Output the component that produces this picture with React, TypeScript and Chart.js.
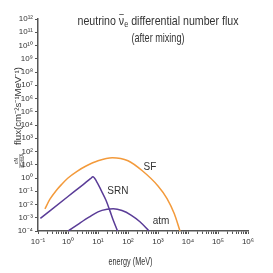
import React, { useEffect, useRef } from "react";
import { Chart, registerables } from "chart.js";

Chart.register(...registerables);

const FONT = "'Liberation Sans Narrow', 'Arial Narrow', 'Liberation Sans', Arial, sans-serif";
const TEXT = "#333333";
const AXIS = "#555555";

// Series (energy in MeV, flux in cm^-2 s^-1 MeV^-1)
const sfEnergy = [0.17, 0.25, 0.4, 0.63, 1, 2, 4, 10, 30, 100, 300, 1000, 2000, 3500, 5400];
const sfFlux = [0.0047, 0.025, 0.11, 0.35, 1, 3.2, 8, 20, 34, 20, 3.5, 0.25, 0.028, 0.002, 0.0001];

const srnEnergy = [0.12, 1, 3.2, 5.6, 6.8, 8.9, 13, 18.6, 25, 33, 45];
const srnFlux = [0.00089, 0.04, 0.32, 0.89, 1.23, 0.56, 0.107, 0.02, 0.0033, 0.00056, 0.0001];

const atmEnergy = [1, 2.5, 5, 10, 20, 32, 63, 126, 250, 500];
const atmFlux = [0.0001, 0.0004, 0.0011, 0.0028, 0.0043, 0.0047, 0.0035, 0.0016, 0.0005, 0.0001];

const seriesNames = ["SF", "SRN", "atm"];
const seriesColors = ["#F39A3B", "#5A3C97", "#5A3C97"];
// label anchors in data coordinates (energy, flux)
const labelEnergy = [540, 46, 1260];
const labelFlux = [6.8, 0.105, 0.00056];

const xTickExponents = [-1, 0, 1, 2, 3, 4, 5, 6];
const yTickExponents = [12, 11, 10, 9, 8, 7, 6, 5, 4, 3, 2, 1, 0, -1, -2, -3, -4];

const titleLine2 = "(after mixing)";
const xTitle = "energy (MeV)";
const yTitle = "flux(cm⁻²s⁻¹MeV⁻¹)";

const SUP: Record<string, string> = {
  "0": "⁰", "1": "¹", "2": "²", "3": "³", "4": "⁴",
  "5": "⁵", "6": "⁶", "7": "⁷", "8": "⁸", "9": "⁹", "-": "⁻",
};
const powLabel = (v: number) => {
  const p = Math.round(Math.log10(v));
  return "10" + String(p).split("").map((c) => SUP[c]).join("");
};
const isDecade = (v: number) => Math.abs(Math.log10(v) - Math.round(Math.log10(v))) < 1e-6;

function drawFitted(ctx: CanvasRenderingContext2D, text: string, cx: number, cy: number, font: string, width: number) {
  ctx.font = font;
  const w = ctx.measureText(text).width;
  const sx = width / w;
  ctx.save();
  ctx.translate(cx, cy);
  ctx.scale(sx, 1);
  ctx.textAlign = "center";
  ctx.textBaseline = "middle";
  ctx.fillText(text, 0, 0);
  ctx.restore();
}

const decorPlugin = {
  id: "decor",
  afterDraw(chart: any) {
    const { ctx } = chart;
    const xs = chart.scales.x;
    const ys = chart.scales.y;
    ctx.save();
    ctx.fillStyle = TEXT;

    // Title line 1 with nu-bar sub e
    const f1 = `13px ${FONT}`;
    const fsub = `9px ${FONT}`;
    ctx.font = f1;
    const a = "neutrino ";
    const nu = "ν";
    const b = " differential number flux";
    const wa = ctx.measureText(a).width;
    const wnu = ctx.measureText(nu).width;
    const wb = ctx.measureText(b).width;
    ctx.font = fsub;
    const we = ctx.measureText("e").width;
    const total = wa + wnu + we + wb;
    const target = 161;
    const sx = target / total;
    ctx.save();
    ctx.translate(158 - target / 2, 21);
    ctx.scale(sx, 1);
    ctx.textBaseline = "middle";
    ctx.textAlign = "left";
    ctx.font = f1;
    ctx.fillText(a, 0, 0);
    ctx.fillText(nu, wa, 0);
    ctx.strokeStyle = TEXT;
    ctx.lineWidth = 0.8;
    ctx.beginPath();
    ctx.moveTo(wa + 0.5, -6.5);
    ctx.lineTo(wa + wnu - 0.5, -6.5);
    ctx.stroke();
    ctx.font = fsub;
    ctx.fillText("e", wa + wnu, 3.5);
    ctx.font = f1;
    ctx.fillText(b, wa + wnu + we, 0);
    ctx.restore();

    drawFitted(ctx, titleLine2, 158, 38, f1, 53);

    // X-axis title
    drawFitted(ctx, xTitle, 130.5, 262, `10px ${FONT}`, 44);

    // Series labels
    seriesNames.forEach((name, i) => {
      const px = xs.getPixelForValue(labelEnergy[i]);
      const py = ys.getPixelForValue(labelFlux[i]);
      ctx.font = `10px ${FONT}`;
      ctx.textAlign = "center";
      ctx.textBaseline = "middle";
      ctx.fillText(name, px, py);
    });

    // Y-axis title (rotated)
    ctx.save();
    ctx.translate(18.5, 106);
    ctx.rotate(-Math.PI / 2);
    drawFitted(ctx, yTitle, 0, 0, `9px ${FONT}`, 78);
    ctx.restore();

    // dN / dEdtdA fraction (rotated)
    ctx.save();
    ctx.translate(19.5, 161);
    ctx.rotate(-Math.PI / 2);
    drawFitted(ctx, "dN", 0, -2.8, `5.5px ${FONT}`, 6);
    drawFitted(ctx, "dEdtdA", 0, 3.2, `5.5px ${FONT}`, 14);
    ctx.strokeStyle = TEXT;
    ctx.lineWidth = 0.5;
    ctx.beginPath();
    ctx.moveTo(-7, 0.3);
    ctx.lineTo(7, 0.3);
    ctx.stroke();
    ctx.restore();

    ctx.restore();
  },
};

export default function App() {
  const ref = useRef<HTMLCanvasElement | null>(null);

  useEffect(() => {
    document.body.style.margin = "0";
    const canvas = ref.current;
    if (!canvas) return;

    const mk = (E: number[], F: number[]) => E.map((e, i) => ({ x: e, y: F[i] }));
    const sets = [mk(sfEnergy, sfFlux), mk(srnEnergy, srnFlux), mk(atmEnergy, atmFlux)];

    const xTicks: number[] = [];
    xTickExponents.forEach((p) => {
      for (let m = 1; m <= 9; m++) {
        const v = m * Math.pow(10, p);
        if (v <= Math.pow(10, xTickExponents[xTickExponents.length - 1]) * 1.0001) xTicks.push(v);
      }
    });

    const chart = new Chart(canvas, {
      type: "line",
      data: {
        datasets: sets.map((d, i) => ({
          label: seriesNames[i],
          data: d,
          borderColor: seriesColors[i],
          borderWidth: 1.5,
          pointRadius: 0,
          fill: false,
          cubicInterpolationMode: "monotone" as const,
        })),
      },
      options: {
        responsive: false,
        animation: false,
        devicePixelRatio: 1,
        layout: { padding: { top: 19, right: 25, left: 0, bottom: 0 } },
        plugins: { legend: { display: false }, tooltip: { enabled: false }, title: { display: false } },
        scales: {
          x: {
            type: "logarithmic",
            min: 0.1,
            max: 1e6,
            afterBuildTicks: (s: any) => {
              s.ticks = xTicks.map((v) => ({ value: v }));
            },
            afterFit: (s: any) => {
              s.height = 42;
            },
            ticks: {
              autoSkip: false,
              maxRotation: 0,
              minRotation: 0,
              padding: 3,
              color: TEXT,
              font: { family: FONT, size: 8 },
              callback: (v: any) => (isDecade(Number(v)) ? powLabel(Number(v)) : ""),
            },
            grid: { display: true, drawOnChartArea: false, drawTicks: true, tickLength: 3, color: AXIS, lineWidth: 1 },
            border: { display: true, color: AXIS, width: 1.5 },
          },
          y: {
            type: "logarithmic",
            min: 1e-4,
            max: 1e12,
            afterBuildTicks: (s: any) => {
              s.ticks = yTickExponents.map((p) => ({ value: Math.pow(10, p) }));
            },
            afterFit: (s: any) => {
              s.width = 38;
            },
            ticks: {
              autoSkip: false,
              padding: 2,
              color: TEXT,
              font: { family: FONT, size: 8 },
              callback: (v: any) => powLabel(Number(v)),
            },
            grid: { display: true, drawOnChartArea: false, drawTicks: true, tickLength: 3, color: AXIS, lineWidth: 1 },
            border: { display: true, color: AXIS, width: 1.5 },
          },
        },
      },
      plugins: [decorPlugin],
    });

    return () => chart.destroy();
  }, []);

  return (
    <div style={{ position: "absolute", left: 0, top: 0, width: 273, height: 273, background: "#fff" }}>
      <canvas ref={ref} width={273} height={273} style={{ width: 273, height: 273 }} />
    </div>
  );
}
